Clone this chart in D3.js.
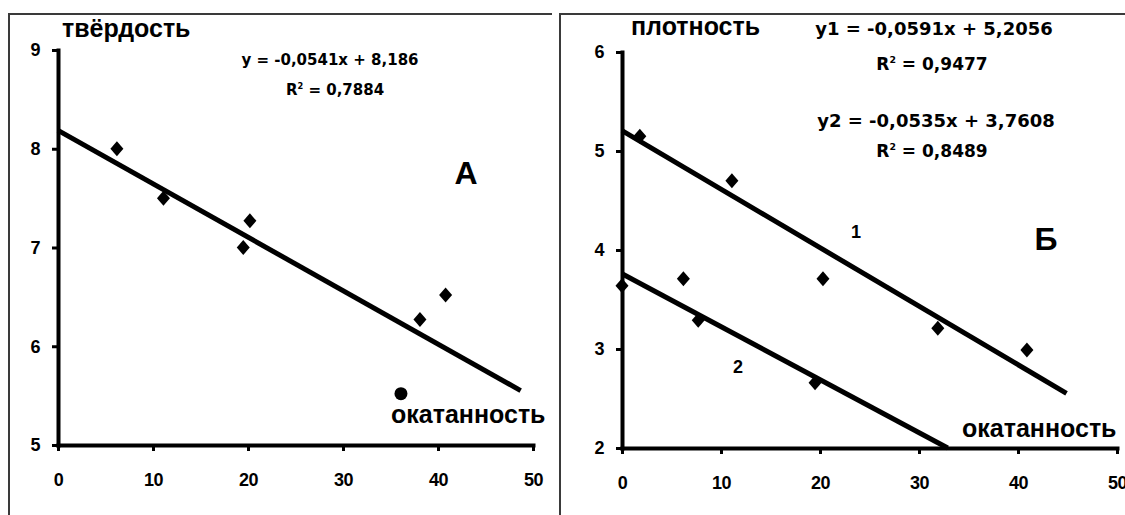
<!DOCTYPE html>
<html>
<head>
<meta charset="utf-8">
<script src="https://cdn.jsdelivr.net/npm/d3@7"></script>
<style>
  body { margin: 0; background: #fff; }
  svg { display: block; }
  .tick text { font-family: "Liberation Sans", Arial, sans-serif; font-weight: bold; fill: #000; }
  .lbl { font-family: "Liberation Sans", Arial, sans-serif; font-weight: bold; fill: #000; }
  .eq { font-family: "DejaVu Sans", sans-serif; font-weight: bold; fill: #000; }
</style>
</head>
<body>
<div class="chart"></div>
<script>
// panel A: hardness vs roundness
const hardX = [6.2, 11.1, 20.2, 19.5, 38.1, 40.8];
const hardY = [8.0, 7.5, 7.27, 7.0, 6.27, 6.52];
const hardOutX = [36.1];
const hardOutY = [5.52];
const hardFit = { slope: -0.0541, icpt: 8.186, from: 0, to: 48.7 };

// panel B: density vs roundness, two groups
const dens1X = [1.8, 11.1, 20.3, 31.9, 40.9];
const dens1Y = [5.15, 4.70, 3.71, 3.21, 2.99];
const dens2X = [0, 6.2, 7.7, 19.5];
const dens2Y = [3.64, 3.71, 3.29, 2.66];
const fit1 = { slope: -0.0591, icpt: 5.2056, from: 0, to: 44.9 };
const fit2 = { slope: -0.0535, icpt: 3.7608, from: 0, to: 32.9 };

const xTicks = [0, 10, 20, 30, 40, 50];
const hardTicks = [5, 6, 7, 8, 9];
const densTicks = [2, 3, 4, 5, 6];

const W = 1125, H = 515;

const svg = d3.select(".chart").append("svg")
  .attr("width", W)
  .attr("height", H);

svg.append("rect").attr("width", W).attr("height", H).attr("fill", "#fff");

// panel frames
svg.append("path")
  .attr("d", "M9,515 L9,14 L552,14")
  .attr("fill", "none").attr("stroke", "#3a3a3a").attr("stroke-width", 2);
svg.append("path")
  .attr("d", "M560,515 L560,14 L1125,14")
  .attr("fill", "none").attr("stroke", "#3a3a3a").attr("stroke-width", 2);

function panel(cfg) {
  const x = d3.scaleLinear().domain([0, 50]).range(cfg.xr);
  const y = d3.scaleLinear().domain(cfg.yd).range(cfg.yr);
  const g = svg.append("g");

  const gx = g.append("g")
    .attr("transform", "translate(0," + cfg.yr[0] + ")")
    .call(d3.axisBottom(x).tickValues(xTicks).tickFormat(d3.format("d"))
      .tickSize(6).tickSizeOuter(0).tickPadding(22));
  const gy = g.append("g")
    .attr("transform", "translate(" + cfg.xr[0] + ",0)")
    .call(d3.axisLeft(y).tickValues(cfg.yt).tickFormat(d3.format("d"))
      .tickSize(6).tickSizeOuter(0).tickPadding(12));

  [gx, gy].forEach(a => {
    a.select(".domain").attr("stroke", "#000").attr("stroke-width", 4).attr("stroke-linecap", "square");
    a.selectAll(".tick line").attr("stroke", "#000").attr("stroke-width", 3);
    a.selectAll(".tick text").attr("font-size", 18).attr("letter-spacing", -0.5);
  });

  const line = d3.line().x(d => x(d[0])).y(d => y(d[1]));
  cfg.fits.forEach(f => {
    g.append("path")
      .attr("d", line([[f.from, f.icpt + f.slope * f.from], [f.to, f.icpt + f.slope * f.to]]))
      .attr("stroke", "#000").attr("stroke-width", 5).attr("fill", "none");
  });

  cfg.series.forEach(s => {
    g.selectAll(null).data(d3.range(s.x.length)).join("path")
      .attr("d", i => {
        const cx = x(s.x[i]), cy = y(s.y[i]);
        return "M" + cx + "," + (cy - 7.5) + "L" + (cx + 6.5) + "," + cy +
          "L" + cx + "," + (cy + 7.5) + "L" + (cx - 6.5) + "," + cy + "Z";
      })
      .attr("fill", "#000");
  });
  return { x, y, g };
}

const A = panel({
  xr: [58, 533], yd: [5, 9], yr: [445, 50], yt: hardTicks,
  fits: [hardFit],
  series: [{ x: hardX, y: hardY }]
});
A.g.selectAll(null).data(d3.range(hardOutX.length)).join("circle")
  .attr("cx", i => A.x(hardOutX[i])).attr("cy", i => A.y(hardOutY[i]))
  .attr("r", 6.5).attr("fill", "#000");

const B = panel({
  xr: [622, 1117], yd: [2, 6], yr: [448, 52], yt: densTicks,
  fits: [fit1, fit2],
  series: [{ x: dens1X, y: dens1Y }, { x: dens2X, y: dens2Y }]
});

function text(str, x, y, size, anchor, cls, extra) {
  const t = svg.append("text").attr("class", cls || "lbl")
    .attr("x", x).attr("y", y).attr("font-size", size)
    .attr("text-anchor", anchor || "start");
  if (extra) extra(t); else t.text(str);
  return t;
}
function rsq(t, val) {
  t.append("tspan").text("R");
  t.append("tspan").attr("font-size", "0.55em").attr("dy", "-0.75em").text("2");
  t.append("tspan").attr("dy", "0.41em").text(" = " + val);
}

// panel A labels
text("твёрдость", 62, 37, 25);
text("окатанность", 391, 423, 25);
text("y = -0,0541x + 8,186", 330, 65, 15, "middle", "eq");
text(null, 335, 95, 15, "middle", "eq", t => rsq(t, "0,7884"));
text("А", 466, 184, 32, "middle");

// panel B labels
text("плотность", 631, 35, 25);
text("окатанность", 962, 437, 25);
text("y1 = -0,0591x + 5,2056", 934, 35, 18, "middle", "eq");
text(null, 932, 70, 17, "middle", "eq", t => rsq(t, "0,9477"));
text("y2 = -0,0535x + 3,7608", 936, 127, 18, "middle", "eq");
text(null, 932, 157, 17, "middle", "eq", t => rsq(t, "0,8489"));
text("1", 856, 238, 18, "middle");
text("2", 738, 373, 18, "middle");
text("Б", 1046, 250, 32, "middle");
</script>
</body>
</html>
